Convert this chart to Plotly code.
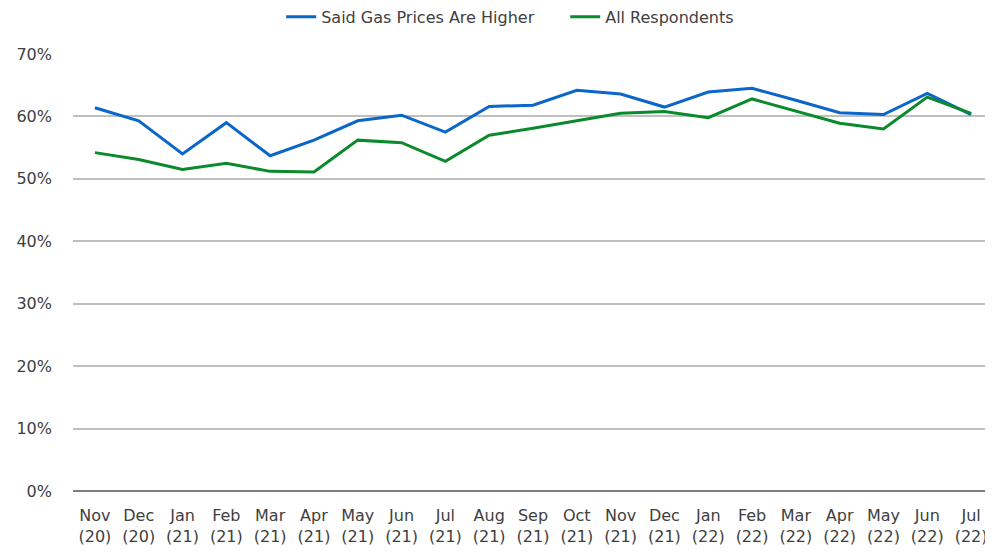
import plotly.graph_objects as go

months = ["Nov", "Dec", "Jan", "Feb", "Mar", "Apr", "May", "Jun", "Jul", "Aug", "Sep",
          "Oct", "Nov", "Dec", "Jan", "Feb", "Mar", "Apr", "May", "Jun", "Jul"]
years = ["20", "20", "21", "21", "21", "21", "21", "21", "21", "21", "21",
         "21", "21", "21", "22", "22", "22", "22", "22", "22", "22"]
categories = [f"{m}<br>({y})" for m, y in zip(months, years)]

higher = [61.4, 59.3, 54.0, 59.0, 53.7, 56.2, 59.3, 60.2, 57.5, 61.6, 61.8,
          64.2, 63.6, 61.5, 63.9, 64.5, 62.6, 60.6, 60.3, 63.7, 60.3]
all_resp = [54.2, 53.1, 51.5, 52.5, 51.2, 51.1, 56.2, 55.8, 52.8, 57.0, 58.1,
            59.3, 60.5, 60.8, 59.8, 62.8, 60.8, 58.9, 58.0, 63.1, 60.5]

y_ticks = [0, 10, 20, 30, 40, 50, 60, 70]

x_idx = list(range(len(categories)))

fig = go.Figure()
fig.add_trace(go.Scatter(x=x_idx, y=higher, mode="lines", name="Said Gas Prices Are Higher",
                         line=dict(color="#0A66C8", width=3)))
fig.add_trace(go.Scatter(x=x_idx, y=all_resp, mode="lines", name="All Respondents",
                         line=dict(color="#0B8A2C", width=3)))

fig.update_layout(
    width=985, height=544,
    margin=dict(l=65, r=0, t=46, b=61, autoexpand=False),
    paper_bgcolor="white", plot_bgcolor="white",
    font=dict(family="DejaVu Sans", size=16, color="#404040"),
    legend=dict(orientation="h", x=0.535, xanchor="center", yref="paper", y=1.085, yanchor="middle",
                font=dict(size=16, color="#404040"), tracegroupgap=0, entrywidth=239),
    showlegend=True,
)
fig.update_xaxes(
    tickmode="array", tickvals=x_idx, ticktext=categories,
    range=[-0.5, len(categories) - 0.5], automargin=False,
    showgrid=False, showline=False, zeroline=False, ticks="",
    ticklabelstandoff=13,
    tickfont=dict(size=16, color="#404040"),
)
fig.update_yaxes(
    range=[0, 70], tickvals=y_ticks, ticktext=[f"{v}%" for v in y_ticks],
    automargin=False,
    showgrid=True, gridcolor="#BFBFBF", gridwidth=1.5,
    zeroline=True, zerolinecolor="#7F7F7F", zerolinewidth=1.5,
    showline=False, ticks="", ticklabelstandoff=20,
    tickfont=dict(size=16, color="#404040"),
)

fig.write_html("out.html")
